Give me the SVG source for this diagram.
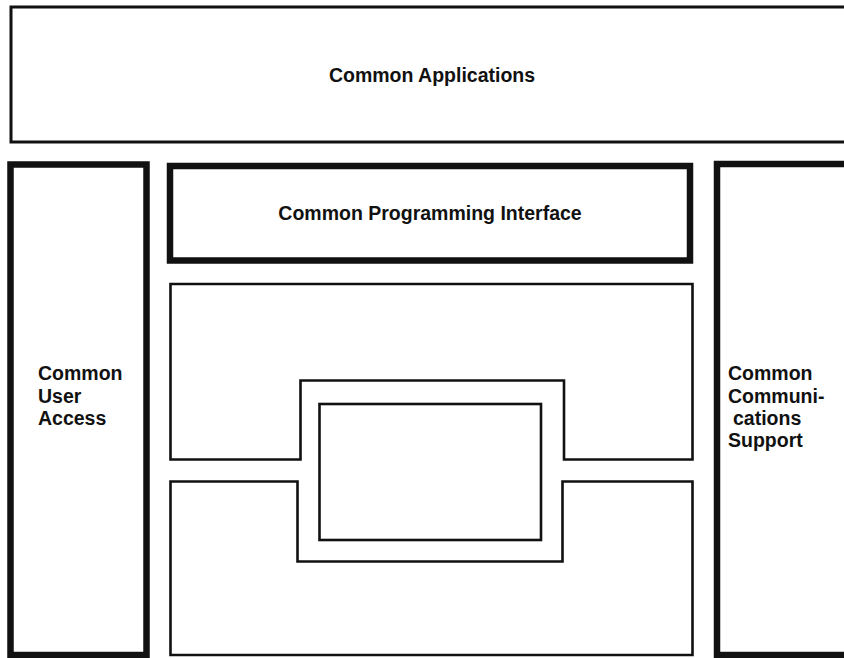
<svg xmlns="http://www.w3.org/2000/svg" width="844" height="658" viewBox="0 0 844 658">
  <style>
    .thin { fill: none; stroke: #111; stroke-width: 3; }
    .mid { fill: none; stroke: #111; stroke-width: 2.6; stroke-linejoin: miter; }
    .thick { fill: none; stroke: #111; stroke-width: 6.5; }
    .lbl { font-family: "Liberation Sans", Arial, Helvetica, sans-serif; font-weight: bold; font-size: 19.5px; fill: #111; }
    .c { text-anchor: middle; }
  </style>
  <rect x="0" y="0" width="844" height="658" fill="#fff"/>

  <g id="common-applications">
    <rect class="thin" x="11" y="7" width="850" height="135"/>
    <text class="lbl c" x="432" y="82">Common Applications</text>
  </g>

  <g id="common-user-access">
    <rect class="thick" x="10.5" y="164.5" width="136" height="490.5"/>
    <text class="lbl" x="38" y="380">Common</text>
    <text class="lbl" x="38" y="403">User</text>
    <text class="lbl" x="38" y="425">Access</text>
  </g>

  <g id="common-programming-interface">
    <rect class="thick" x="170" y="166" width="520" height="94.5"/>
    <text class="lbl c" x="430" y="220">Common Programming Interface</text>
  </g>

  <g id="common-communications-support">
    <rect class="thick" x="717" y="164" width="150" height="491"/>
    <text class="lbl" x="728" y="380">Common</text>
    <text class="lbl" x="728" y="403">Communi-</text>
    <text class="lbl" x="733" y="425">cations</text>
    <text class="lbl" x="728" y="447">Support</text>
  </g>

  <g id="upper-block">
    <path class="mid" d="M170.5 284 H692.5 V459.5 H564 V380.5 H300.5 V459.5 H170.5 Z"/>
  </g>

  <g id="lower-block">
    <path class="mid" d="M170.5 481.5 H297.5 V561.5 H562.5 V481.5 H692.5 V655 H170.5 Z"/>
  </g>

  <g id="inner-block">
    <rect class="mid" x="319.5" y="404" width="221.5" height="136"/>
  </g>

  <g id="connectors"></g>
</svg>
